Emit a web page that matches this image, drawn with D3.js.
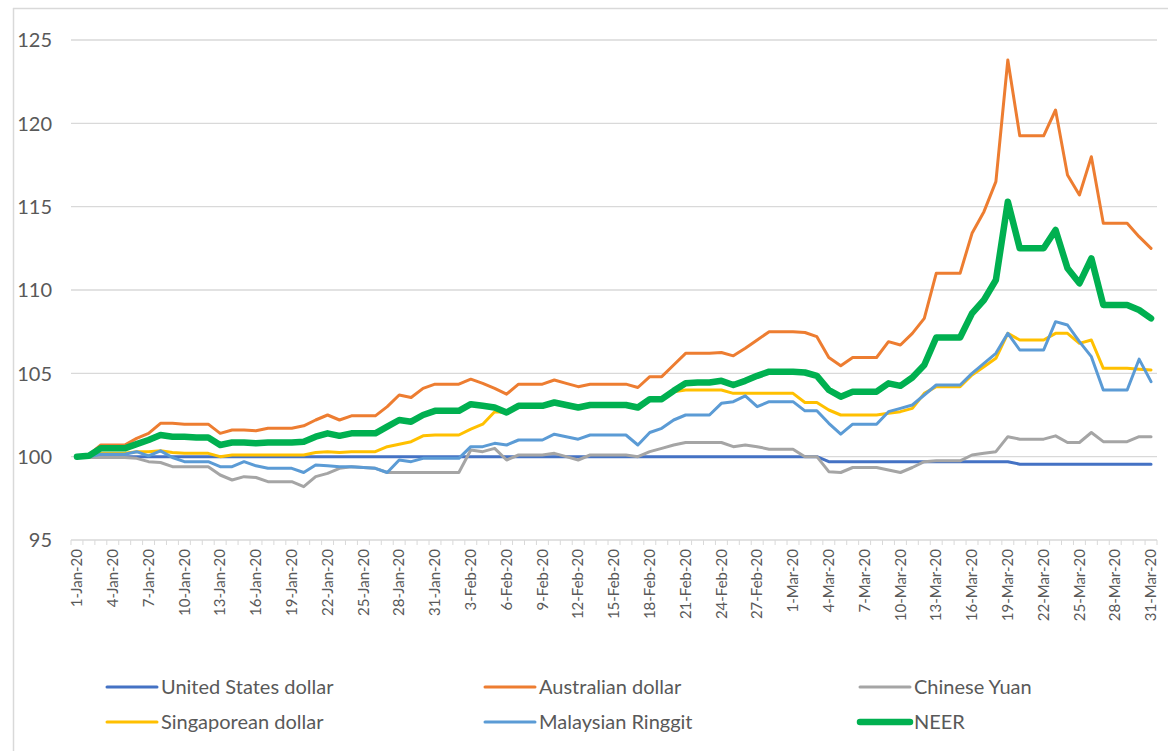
<!DOCTYPE html>
<html>
<head>
<meta charset="utf-8">
<script src="https://cdn.jsdelivr.net/npm/d3@7"></script>
<style>
  body { margin: 0; background: #fff; }
  svg { display: block; font-family: Lato, "Open Sans", sans-serif; }
</style>
</head>
<body>
<svg width="1168" height="751"></svg>
<script>
// daily index, 1-Jan-20 = 100
var dates = d3.timeDays(new Date(2020, 0, 1), new Date(2020, 3, 1));

var usd = [100,100,100,100,100,100,100,100,100,100,100,100,100,100,100,100,100,100,100,100,
  100,100,100,100,100,100,100,100,100,100,100,100,100,100,100,100,100,100,100,100,
  100,100,100,100,100,100,100,100,100,100,100,100,100,100,100,100,100,100,100,100,
  100,100,100,99.7,99.7,99.7,99.7,99.7,99.7,99.7,99.7,99.7,99.7,99.7,99.7,99.7,99.7,99.7,99.7,
  99.55,99.55,99.55,99.55,99.55,99.55,99.55,99.55,99.55,99.55,99.55,99.55];

var aud = [100,100.1,100.7,100.7,100.7,101.1,101.4,102.0,102.0,101.95,101.95,101.95,101.4,101.6,101.6,
  101.55,101.7,101.7,101.7,101.85,102.2,102.5,102.2,102.45,102.45,102.45,103.0,103.7,103.55,104.1,
  104.35,104.35,104.35,104.65,104.4,104.1,103.75,104.35,104.35,104.35,104.6,104.4,104.2,104.35,104.35,
  104.35,104.35,104.15,104.8,104.8,105.5,106.2,106.2,106.2,106.25,106.05,106.5,107.0,107.5,107.5,
  107.5,107.45,107.2,105.95,105.45,105.95,105.95,105.95,106.9,106.7,107.4,108.3,111.0,111.0,111.0,
  113.4,114.7,116.5,123.8,119.25,119.25,119.25,120.8,116.9,115.7,118.0,114.0,114.0,114.0,113.2,112.5];

var cny = [100,99.95,99.95,99.95,99.95,99.9,99.7,99.65,99.4,99.4,99.4,99.4,98.9,98.6,98.8,
  98.75,98.5,98.5,98.5,98.2,98.8,99.0,99.3,99.4,99.35,99.3,99.05,99.05,99.05,99.05,
  99.05,99.05,99.05,100.4,100.3,100.5,99.8,100.1,100.1,100.1,100.2,100.0,99.8,100.1,100.1,
  100.1,100.1,100.0,100.3,100.5,100.7,100.85,100.85,100.85,100.85,100.6,100.7,100.6,100.45,100.45,
  100.45,100.0,100.0,99.1,99.05,99.35,99.35,99.35,99.2,99.05,99.35,99.7,99.75,99.75,99.75,
  100.1,100.2,100.3,101.2,101.05,101.05,101.05,101.25,100.85,100.85,101.45,100.9,100.9,100.9,101.2,101.2];

var sgd = [100,100.0,100.2,100.2,100.2,100.3,100.3,100.35,100.25,100.2,100.2,100.2,100.0,100.1,100.1,
  100.1,100.1,100.1,100.1,100.1,100.25,100.3,100.25,100.3,100.3,100.3,100.6,100.75,100.9,101.25,
  101.3,101.3,101.3,101.65,101.95,102.7,102.65,103.0,103.0,103.0,103.2,103.05,102.9,103.05,103.05,
  103.05,103.05,102.9,103.4,103.4,103.9,104.0,104.0,104.0,104.0,103.8,103.8,103.8,103.8,103.8,
  103.8,103.25,103.25,102.8,102.5,102.5,102.5,102.5,102.6,102.7,102.9,103.8,104.2,104.2,104.2,
  104.9,105.4,105.9,107.4,107.0,107.0,107.0,107.4,107.4,106.8,107.0,105.3,105.3,105.3,105.25,105.2];

var myr = [100,100.0,100.15,100.15,100.15,100.3,100.05,100.35,99.95,99.7,99.7,99.7,99.4,99.4,99.7,
  99.45,99.3,99.3,99.3,99.05,99.5,99.45,99.4,99.4,99.35,99.3,99.05,99.8,99.7,99.9,
  99.9,99.9,99.9,100.6,100.6,100.8,100.7,101.0,101.0,101.0,101.35,101.2,101.05,101.3,101.3,
  101.3,101.3,100.7,101.45,101.7,102.2,102.5,102.5,102.5,103.2,103.3,103.65,103.0,103.3,103.3,
  103.3,102.75,102.75,102.0,101.35,101.95,101.95,101.95,102.7,102.9,103.1,103.7,104.3,104.3,104.3,
  105.0,105.6,106.2,107.4,106.4,106.4,106.4,108.1,107.9,106.9,106.0,104.0,104.0,104.0,105.85,104.5];

var neer = [100,100.05,100.5,100.5,100.5,100.75,101.0,101.3,101.2,101.2,101.15,101.15,100.7,100.85,100.85,
  100.8,100.85,100.85,100.85,100.9,101.2,101.4,101.25,101.4,101.4,101.4,101.8,102.2,102.1,102.5,
  102.75,102.75,102.75,103.15,103.05,102.95,102.65,103.05,103.05,103.05,103.25,103.1,102.95,103.1,103.1,
  103.1,103.1,102.95,103.45,103.45,103.95,104.4,104.45,104.45,104.55,104.3,104.55,104.85,105.1,105.1,
  105.1,105.05,104.85,104.0,103.6,103.9,103.9,103.9,104.4,104.25,104.75,105.5,107.15,107.15,107.15,
  108.6,109.4,110.6,115.3,112.5,112.5,112.5,113.6,111.3,110.4,111.9,109.1,109.1,109.1,108.8,108.3];

var seriesNames = ["United States dollar", "Australian dollar", "Chinese Yuan",
                   "Singaporean dollar", "Malaysian Ringgit", "NEER"];
var seriesValues = [usd, aud, cny, sgd, myr, neer];
var seriesColors = ["#4472C4", "#ED7D31", "#A5A5A5", "#FFC000", "#5B9BD5", "#00B050"];
var seriesWidths = [3, 3, 3, 3, 3, 6.5];
var yTicks = [95, 100, 105, 110, 115, 120, 125];

var svg = d3.select("svg");

// chart area frame (top + left only visible)
svg.append("line").attr("x1", 13).attr("x2", 1168).attr("y1", 8.5).attr("y2", 8.5)
  .style("stroke", "#d9d9d9").style("stroke-width", 1.5);
svg.append("line").attr("x1", 13.5).attr("x2", 13.5).attr("y1", 8).attr("y2", 751)
  .style("stroke", "#d9d9d9").style("stroke-width", 1.5);

var x = d3.scalePoint().domain(d3.range(dates.length)).range([71, 1157]).padding(0.5);
var y = d3.scaleLinear().domain([95, 125]).range([540, 40]);
var step = x.step();

// gridlines
svg.append("g").selectAll("line").data(yTicks.slice(1)).enter().append("line")
  .attr("x1", 71).attr("x2", 1157)
  .attr("y1", function(d){ return y(d); }).attr("y2", function(d){ return y(d); })
  .style("stroke", "#d9d9d9").style("stroke-width", 1.3);

// y labels
svg.append("g").selectAll("text").data(yTicks).enter().append("text")
  .attr("x", 52).attr("y", function(d){ return y(d); }).attr("dy", "0.36em")
  .attr("text-anchor", "end")
  .style("font-size", "20px").style("fill", "#595959")
  .text(function(d){ return d; });

// x axis line + small ticks between days
svg.append("line").attr("x1", 71).attr("x2", 1157).attr("y1", y(95)).attr("y2", y(95))
  .style("stroke", "#d9d9d9").style("stroke-width", 1.3);
svg.append("g").selectAll("line").data(d3.range(dates.length + 1)).enter().append("line")
  .attr("x1", function(i){ return 71 + i * step; }).attr("x2", function(i){ return 71 + i * step; })
  .attr("y1", y(95)).attr("y2", y(95) + 5)
  .style("stroke", "#d9d9d9").style("stroke-width", 1);

var fmt = d3.timeFormat("%-d-%b-%y");
var labelIdx = d3.range(0, dates.length, 3);
svg.append("g").selectAll("text").data(labelIdx).enter().append("text")
  .attr("transform", function(i){ return "translate(" + x(i) + ",549) rotate(-90)"; })
  .attr("dy", "0.35em")
  .attr("text-anchor", "end")
  .style("font-size", "15px").style("fill", "#595959")
  .text(function(i){ return fmt(dates[i]); });

// lines
var line = d3.line()
  .x(function(d, i){ return x(i); })
  .y(function(d){ return y(d); });

for (var s = 0; s < seriesValues.length; s++) {
  svg.append("path")
    .datum(seriesValues[s])
    .attr("d", line)
    .style("fill", "none")
    .style("stroke", seriesColors[s])
    .style("stroke-width", seriesWidths[s])
    .style("stroke-linejoin", "round")
    .style("stroke-linecap", "round");
}

// legend, 3 columns x 2 rows
var legX = [107, 485, 860];
var legY = [687, 722];
for (var k = 0; k < seriesNames.length; k++) {
  var lx = legX[k % 3], ly = legY[Math.floor(k / 3)];
  svg.append("line").attr("x1", lx).attr("x2", lx + 50).attr("y1", ly).attr("y2", ly)
    .style("stroke", seriesColors[k]).style("stroke-width", seriesWidths[k])
    .style("stroke-linecap", "round");
  svg.append("text").attr("x", lx + 54).attr("y", ly).attr("dy", "0.36em")
    .style("font-size", "20px").style("fill", "#595959")
    .text(seriesNames[k]);
}
</script>
</body>
</html>
